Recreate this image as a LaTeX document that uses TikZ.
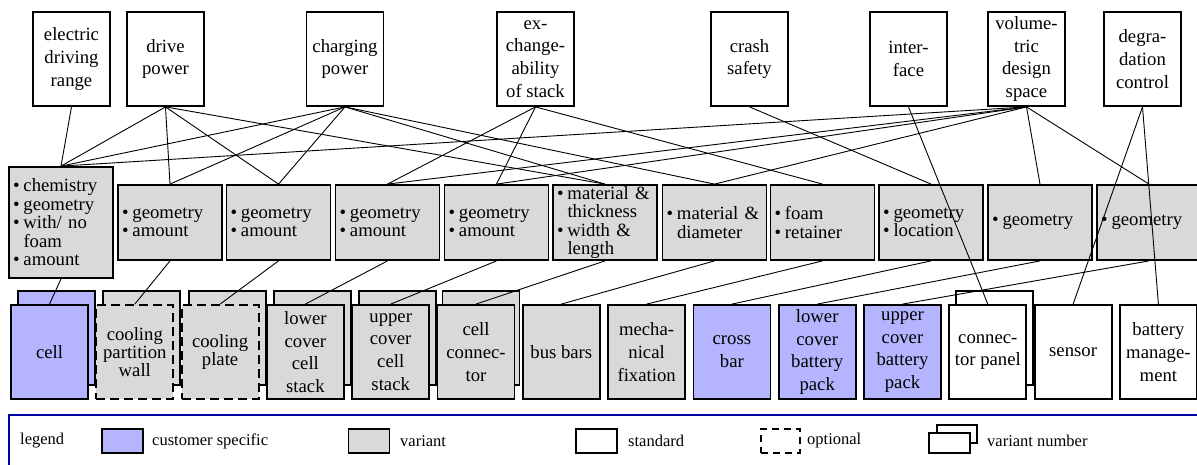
\documentclass[tikz,border=0pt]{standalone}
\usepackage{fontspec}
\setmainfont{Liberation Serif}
\definecolor{custblue}{RGB}{180,180,255}
\definecolor{vargray}{RGB}{217,217,217}
\definecolor{legblue}{RGB}{0,0,160}
\newcommand{\bu}{\makebox[10.5pt][l]{•}}
\newcommand{\ind}{\hspace*{10.5pt}}
\begin{document}
\begin{tikzpicture}[x=1pt,y=-1pt,
  basebox/.style={draw, line width=1.8pt, rectangle, inner sep=0pt, align=center,
    font=\fontsize{18.7}{22.7}\selectfont},
  reqbox/.style={basebox, fill=white, minimum width=77pt, minimum height=94pt},
  pbox/.style={basebox, fill=vargray, minimum width=104pt, minimum height=75pt,
    text width=96pt, align=left, inner xsep=4pt, font=\fontsize{18.7}{18.5}\selectfont},
  comp/.style={basebox, minimum width=77pt, minimum height=94pt},
  cust/.style={comp, fill=custblue},
  vari/.style={comp, fill=vargray},
  stdd/.style={comp, fill=white},
  optbox/.style={dash pattern=on 9pt off 5pt},
  tightlines/.style={font=\fontsize{18.7}{18}\selectfont},
  conn/.style={line width=0.9pt},
  legtext/.style={anchor=west, inner sep=0pt, font=\fontsize{16.5}{16.5}\selectfont},
  swatch/.style={draw, line width=1.8pt, rectangle, inner sep=0pt, minimum width=41pt, minimum height=24pt},
]
\useasboundingbox (0,0) rectangle (1197,464);

% ---------- requirements ----------
\node[reqbox] (edr)  at (71.5,59)   {electric\\driving\\range};
\node[reqbox] (dp)   at (165.5,59)  {drive\\power};
\node[reqbox] (cp)   at (345,59)    {charging\\power};
\node[reqbox] (exch) at (535.5,59)  {ex-\\change-\\ability\\of stack};
\node[reqbox] (crash) at (749.5,59) {crash\\safety};
\node[reqbox] (intf) at (908.5,59)  {inter-\\face};
\node[reqbox] (vds)  at (1026.5,59) {volume-\\tric\\design\\space};
\node[reqbox] (degr) at (1142.5,59) {degra-\\dation\\control};

% ---------- parameters ----------
\node[pbox, minimum height=111pt] (m1) at (61,222.5)
  {\bu chemistry\\\bu geometry\\\bu with/ no\\\ind foam\\\bu amount};
\node[pbox] (m2)  at (170,222.5)   {\bu geometry\\\bu amount};
\node[pbox] (m3)  at (278.5,222.5) {\bu geometry\\\bu amount};
\node[pbox] (m4)  at (387.5,222.5) {\bu geometry\\\bu amount};
\node[pbox] (m5)  at (496.5,222.5) {\bu geometry\\\bu amount};
\node[pbox] (m6)  at (605,222.5)   {\bu material \&\\\ind thickness\\\bu width \&\\\ind length};
\node[pbox] (m7)  at (714.5,222.5) {\bu material \&\\\ind diameter};
\node[pbox] (m8)  at (822.5,222.5) {\bu foam\\\bu retainer};
\node[pbox] (m9)  at (931,222.5)   {\bu geometry\\\bu location};
\node[pbox] (m10) at (1040,222.5)  {\bu geometry};
\node[pbox] (m11) at (1149,222.5)  {\bu geometry};

% ---------- components: back boxes (variant number) ----------
\node[cust] (b1b) at (56.5,338)  {};
\node[vari] (b2b) at (141.8,338) {};
\node[vari] (b3b) at (227.1,338) {};
\node[vari] (b4b) at (312.4,338) {};
\node[vari] (b5b) at (397.7,338) {};
\node[vari] (b6b) at (481,338)   {};
\node[stdd] (b12b) at (994.8,338) {};

% ---------- components: front boxes ----------
\node[cust] (b1)  at (49.5,352)  {cell};
\node[vari, optbox, tightlines] (b2) at (134.8,352) {cooling\\partition\\wall};
\node[vari, optbox, tightlines] (b3) at (220.1,352) {cooling\\plate};
\node[vari] (b4)  at (305.4,352) {lower\\cover\\cell\\stack};
\node[vari] (b5)  at (390.7,352) {upper\\cover\\cell\\stack};
\node[vari] (b6)  at (476,352)   {cell\\connec-\\tor};
\node[vari] (b7)  at (561.3,352) {bus bars};
\node[vari] (b8)  at (646.6,352) {mecha-\\nical\\fixation};
\node[cust] (b9)  at (731.9,352) {cross\\bar};
\node[cust] (b10) at (817.2,352) {lower\\cover\\battery\\pack};
\node[cust] (b11) at (902.5,352) {upper\\cover\\battery\\pack};
\node[stdd] (b12) at (987.8,352) {connec-\\tor panel};
\node[stdd] (b13) at (1073.1,352) {sensor};
\node[stdd] (b14) at (1158.4,352) {battery\\manage-\\ment};

% ---------- connectors: requirements -> parameters ----------
\draw[conn] (edr.south) -- (m1.north);
\draw[conn] (dp.south) -- (m1.north);
\draw[conn] (dp.south) -- (m2.north);
\draw[conn] (dp.south) -- (m3.north);
\draw[conn] (dp.south) -- (m6.north);
\draw[conn] (cp.south) -- (m1.north);
\draw[conn] (cp.south) -- (m2.north);
\draw[conn] (cp.south) -- (m3.north);
\draw[conn] (cp.south) -- (m6.north);
\draw[conn] (cp.south) -- (m7.north);
\draw[conn] (exch.south) -- (m4.north);
\draw[conn] (exch.south) -- (m5.north);
\draw[conn] (exch.south) -- (m8.north);
\draw[conn] (crash.south) -- (m9.north);
\draw[conn] (vds.south) -- (m1.north);
\draw[conn] (vds.south) -- (m4.north);
\draw[conn] (vds.south) -- (m5.north);
\draw[conn] (vds.south) -- (m7.north);
\draw[conn] (vds.south) -- (m10.north);
\draw[conn] (vds.south) -- (m11.north);
\draw[conn] (intf.south) -- (b12.north);
\draw[conn] (degr.south) -- (b13.north);
\draw[conn] (degr.south) -- (b14.north);

% ---------- connectors: parameters -> components ----------
\draw[conn] (m1.south) -- (b1.north);
\draw[conn] (m2.south) -- (b2.north);
\draw[conn] (m3.south) -- (b3.north);
\draw[conn] (m4.south) -- (b4.north);
\draw[conn] (m5.south) -- (b5.north);
\draw[conn] (m6.south) -- (b6.north);
\draw[conn] (m7.south) -- (b7.north);
\draw[conn] (m8.south) -- (b8.north);
\draw[conn] (m9.south) -- (b9.north);
\draw[conn] (m10.south) -- (b10.north);
\draw[conn] (m11.south) -- (b11.north);

% ---------- legend ----------
\draw[legblue, line width=1.8pt] (9,470) -- (9,415) -- (1210,415);
\node[legtext] (lgl) at (20,441) {legend};
\node[swatch, fill=custblue] (sw1) at (122.5,441) {};
\node[legtext] (lg1) at (152,441) {customer specific};
\node[swatch, fill=vargray] (sw2) at (369,441) {};
\node[legtext] (lg2) at (400,441) {variant};
\node[swatch, fill=white] (sw3) at (596.5,441) {};
\node[legtext] (lg3) at (628,441) {standard};
\node[swatch, fill=white, minimum width=39pt, dash pattern=on 7pt off 5pt] (sw4) at (780.5,441) {};
\node[legtext] (lg4) at (807,441) {optional};
\node[swatch, fill=white, minimum width=40pt, minimum height=18pt] (sw5b) at (957,434) {};
\node[swatch, fill=white, minimum width=41pt, minimum height=20pt] (sw5) at (949.5,443) {};
\node[legtext] (lg5) at (987,441) {variant number};
\end{tikzpicture}
\end{document}
